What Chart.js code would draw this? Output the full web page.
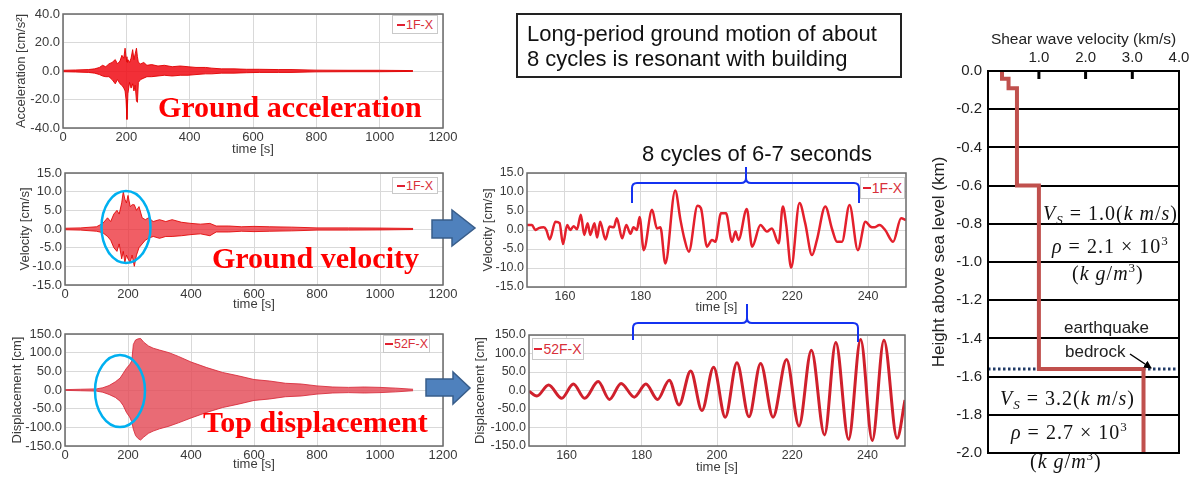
<!DOCTYPE html>
<html>
<head>
<meta charset="utf-8">
<script src="https://cdn.jsdelivr.net/npm/chart.js@4.4.1/dist/chart.umd.min.js"></script>
<style>
  body { margin: 0; width: 1198px; height: 477px; background: #fff; position: relative; overflow: hidden;
         font-family: 'Liberation Sans', Arial, sans-serif; }
  canvas { position: absolute; }
  .txt { position: absolute; white-space: nowrap; }
  .big { font-family: 'Liberation Serif', 'Times New Roman', serif; font-weight: bold; font-size: 30px; color: #ff0000; line-height: 30px; }
  .lg { position: absolute; box-sizing: border-box; border: 1px solid #c9c9c9; background: #fff; color: #d8303a;
        font-size: 12.5px; display: flex; align-items: center; justify-content: center; }
  .lg span { display: inline-block; width: 8px; height: 2px; background: #e02030; margin-right: 1px; }
  .math { position: absolute; white-space: nowrap; font-family: 'Liberation Serif', 'DejaVu Serif', serif; font-size: 20px; color: #111; line-height: 22px; letter-spacing: 1px; }
  .math sub { font-size: 13px; vertical-align: -4px; }
  .math sup { font-size: 13px; vertical-align: 8px; }
</style>
</head>
<body>
<canvas id="accChart" width="460" height="160" style="left:0;top:0"></canvas>
<canvas id="velChart" width="460" height="160" style="left:0;top:155px"></canvas>
<canvas id="dispChart" width="460" height="157" style="left:0;top:318px"></canvas>
<canvas id="midVelChart" width="450" height="158" style="left:470px;top:160px"></canvas>
<canvas id="midDispChart" width="451" height="158" style="left:469px;top:320px"></canvas>
<canvas id="vsChart" width="278" height="452" style="left:920px;top:25px"></canvas>

<svg width="1198" height="477" style="position:absolute;left:0;top:0;pointer-events:none">
  <defs>
    <marker id="ah" markerWidth="8" markerHeight="8" refX="7" refY="4" orient="auto" markerUnits="userSpaceOnUse">
      <path d="M0,0 L8,4 L0,8 z" fill="#000"/>
    </marker>
  </defs>
  <ellipse cx="126" cy="227" rx="24.5" ry="36" fill="none" stroke="#00b0f0" stroke-width="2.5"/>
  <ellipse cx="120" cy="391" rx="25" ry="36" fill="none" stroke="#00b0f0" stroke-width="2.5"/>
  <polygon points="432,220 452,220 452,210 475,228 452,246 452,238 432,238" fill="#4f81bd" stroke="#385d8a" stroke-width="1.5"/>
  <polygon points="426,379 453,379 453,372 470,388 453,404 453,396 426,396" fill="#4f81bd" stroke="#385d8a" stroke-width="1.5"/>
  <path d="M632,203 L632,188 Q632,183 637,183 L741,183 Q746,183 746,178 L746,167 M746,178 Q746,183 751,183 L854,183 Q859,183 859,188 L859,203"
        fill="none" stroke="#1432f0" stroke-width="2"/>
  <path d="M633,340 L633,328 Q633,323 638,323 L742,323 Q747,323 747,318 L747,304 M747,318 Q747,323 752,323 L853,323 Q858,323 858,328 L858,342"
        fill="none" stroke="#1432f0" stroke-width="2"/>
  <line x1="1130" y1="354" x2="1151" y2="368" stroke="#000" stroke-width="1.5" marker-end="url(#ah)"/>
</svg>

<div class="txt big" style="left:158px;top:92px">Ground acceleration</div>
<div class="txt big" style="left:212px;top:243px">Ground velocity</div>
<div class="txt big" style="left:203px;top:407px">Top displacement</div>

<div class="txt" style="left:516px;top:13px;width:386px;height:65px;box-sizing:border-box;border:2px solid #222;padding:6px 0 0 9px;font-size:22px;line-height:25px;color:#111">Long-period ground motion of about<br>8 cycles is resonant with building</div>
<div class="txt" style="left:642px;top:141px;font-size:22px;color:#111">8 cycles of 6-7 seconds</div>

<div class="lg" style="left:392px;top:15px;width:46px;height:19px"><span></span>1F-X</div>
<div class="lg" style="left:392px;top:177px;width:46px;height:17px"><span></span>1F-X</div>
<div class="lg" style="left:383px;top:335px;width:47px;height:18px"><span></span>52F-X</div>
<div class="lg" style="left:860px;top:177px;width:45px;height:22px;font-size:14px"><span></span>1F-X</div>
<div class="lg" style="left:532px;top:338px;width:52px;height:22px;font-size:14px"><span></span>52F-X</div>

<div class="math" style="left:1043px;top:202px"><i>V</i><sub><i>S</i></sub> = 1.0(<i>k m</i>/<i>s</i>)</div>
<div class="math" style="left:1052px;top:230px"><i>ρ</i> = 2.1 × 10<sup>3</sup></div>
<div class="math" style="left:1072px;top:257px">(<i>k g</i>/<i>m</i><sup>3</sup>)</div>
<div class="txt" style="left:1064px;top:318px;font-size:17px;color:#222">earthquake</div>
<div class="txt" style="left:1065px;top:342px;font-size:17px;color:#222">bedrock</div>
<div class="math" style="left:1000px;top:387px"><i>V</i><sub><i>S</i></sub> = 3.2(<i>k m</i>/<i>s</i>)</div>
<div class="math" style="left:1011px;top:416px"><i>ρ</i> = 2.7 × 10<sup>3</sup></div>
<div class="math" style="left:1030px;top:445px">(<i>k g</i>/<i>m</i><sup>3</sup>)</div>

<script>
Chart.defaults.font.family = "'Liberation Sans', Arial, sans-serif";
Chart.defaults.color = '#333';
Chart.defaults.animation = false;

// Ground acceleration 1F-X, envelope of the trace (cm/s2)
const accTime  = [0, 40, 80, 100, 115, 125, 135, 145, 155, 165, 172, 180, 186, 192, 196, 199, 202, 205, 210, 215,
                  220, 224, 228, 232, 235, 238, 245, 255, 265, 280, 300, 320, 345, 370, 395, 420, 450, 470, 500, 540,
                  580, 620, 680, 720, 800, 900, 1000, 1105];
const accUpper = [0.5, 0.7, 1, 1.5, 2.5, 4, 3, 5, 6, 8, 5, 7, 11, 9, 16, 10, 6, 8, 6, 9,
                  15, 8, 12, 16, 10, 6, 5, 6, 4, 4.5, 3.5, 4, 3, 3.5, 3, 2.5, 2.5, 2, 1.5, 1.5,
                  1.2, 1.2, 1, 1, 0.6, 0.5, 0.5, 0.3];
const accLower = [-0.5, -0.7, -1, -1.5, -2.5, -3.5, -4, -4, -6, -9, -6, -9, -10, -12, -14, -20, -34, -16, -8, -12,
                  -9, -14, -10, -21, -22, -8, -6, -5, -4, -4, -3.5, -3, -3.5, -3, -3, -2.5, -2, -2, -1.5, -1.5,
                  -1.2, -1, -1, -1, -0.6, -0.5, -0.5, -0.3];

// Ground velocity 1F-X, envelope (cm/s)
const velTime  = [0, 50, 100, 120, 135, 145, 155, 165, 172, 180, 185, 190, 195, 200, 207, 213, 220, 227, 235, 245,
                  255, 265, 280, 300, 320, 340, 370, 400, 430, 460, 480, 520, 560, 600, 650, 720, 800, 900, 1000, 1105];
const velUpper = [0.2, 0.3, 0.6, 1.5, 3, 2, 4, 5, 4, 7, 10, 8, 7, 9, 6, 6.5, 6.5, 5, 6, 3,
                  2.5, 3, 2, 2.5, 2, 2.5, 1.8, 1.5, 1.3, 1.5, 0.8, 0.8, 0.6, 0.7, 0.6, 0.5, 0.3, 0.3, 0.25, 0.15];
const velLower = [-0.2, -0.3, -0.6, -1, -2, -3, -5, -6, -4, -8, -6, -9, -7, -8, -9, -7, -10, -7, -5, -4,
                  -3, -2.5, -2, -2.5, -2, -2, -1.8, -1.5, -1.3, -1.8, -0.8, -0.8, -0.6, -0.7, -0.6, -0.5, -0.3, -0.3, -0.25, -0.15];

// Top displacement 52F-X, envelope (cm)
const dispTime  = [0, 50, 100, 120, 140, 160, 175, 185, 195, 205, 212, 217, 224, 232, 240, 250, 265, 280, 300, 330,
                   360, 400, 450, 500, 550, 600, 650, 700, 750, 800, 850, 900, 950, 1000, 1050, 1105];
const dispUpper = [1, 2, 3, 6, 12, 22, 32, 45, 58, 68, 78, 122, 134, 137, 138, 128, 118, 112, 107, 100,
                   90, 75, 60, 47, 38, 28, 24, 18, 16, 11, 8, 7, 8, 7, 5, 2];
const dispLower = [-1, -2, -3, -6, -12, -20, -30, -42, -60, -72, -85, -105, -122, -130, -134, -126, -116, -110, -104, -97,
                   -88, -75, -60, -47, -38, -28, -24, -18, -16, -11, -8, -7, -8, -7, -5, -2];

// Zoomed velocity 150-250 s (cm/s)
const midVelTime = [150, 151.3, 152.2, 153.1, 154.4, 155.1, 156, 157.5, 158.6, 159.5, 160.6, 161.4, 162.3, 163.2, 164.2,
                    165.1, 166, 166.7, 167.8, 168.5, 169.3, 170.7, 171.8, 172.9, 173.7, 175.1, 176.2, 177.3, 178.1, 179,
                    179.7, 180.8, 183, 184.3, 185.2, 186.5, 189.1, 190.5, 191.5, 192.7, 195, 195.9, 197.5, 198.8, 199.7,
                    201.2, 202.5, 204.1, 205, 205.8, 208, 209.4, 211.6, 213.3, 214.6, 216.4, 217.5, 218.4, 219.7, 221.9,
                    223.4, 225.2, 226.5, 228.7, 230.5, 231.8, 233.1, 235.1, 237.3, 239.3, 240.6, 241.6, 243, 244.5, 246.6,
                    248.7, 250];
const midVelValue = [1.3, 1.3, 0, 0.5, 0.7, 0, -2.5, 2.2, 1.8, -3.7, 1.3, 0, 1, 0.2, 4,
                     -1.3, 1.8, -1.3, 1.8, -2, 2.2, -2.5, 0.9, 0.7, 3.1, -2.2, 1.3, -1, 0.7, 0,
                     3.4, -5.3, 5.3, 0.4, 0.7, -8.8, 10.4, 2.6, -2.2, -5.7, 6.4, 5.7, -4.4, -2.6, -3.1,
                     4.4, 4.4, -3.1, -0.4, -2.6, 5.5, -4.4, 1.3, -0.4, 0.4, -3.5, 6.2, 1.3, -9.9, 7.1,
                     1.8, -6.6, -2.6, 6.2, 0.2, -3.1, -3.1, 6.6, -5.3, 2.2, 0.9, 0.7, 1.3, 0, -3.1,
                     3.1, 2.6];

// Zoomed top displacement 150-250 s (cm)
const midDispTime = [150, 152.1, 155.2, 158.7, 161.8, 164.8, 168.4, 171.4, 174.5, 178, 181.1, 184.2, 187.3, 189.9, 193,
                     196, 199.1, 202.2, 205.3, 208.5, 211.6, 214.9, 218.5, 221.8, 225.1, 228.6, 231.6, 235, 238.2, 241.3,
                     244.4, 247.9, 250];
const midDispValue = [-2, -15, 15, -21, 17.5, -21, 24, -24, 19, -18, 17.5, -24, 28, -39, 53,
                      -54, 63, -72, 75, -71, 73, -72, 84, -96, 109, -120, 130, -132, 138, -135,
                      136, -129, -26];

// Shear wave velocity profile
const layerVs = [0.21, 0.35, 0.53, 1.0, 3.24];      // km/s
const layerTop = [0, -0.04, -0.09, -0.6, -1.56];    // km
const profileBottom = -2.0;
const bedrockDepth = -1.56;

// Tick values
const longTicks = [0, 200, 400, 600, 800, 1000, 1200];
const zoomTicks = [160, 180, 200, 220, 240];
const accTicks = [-40, -30, -20, -10, 0, 10, 20, 30, 40];
const velTicks = [-15, -10, -5, 0, 5, 10, 15];
const dispTicks = [-150, -100, -50, 0, 50, 100, 150];
const vsTicks = [1, 2, 3, 4];
const heightTicks = [0, -0.2, -0.4, -0.6, -0.8, -1.0, -1.2, -1.4, -1.6, -1.8, -2.0];

function xy(xs, ys) { return xs.map((x, i) => ({ x: x, y: ys[i] })); }

// Moldura em volta da area do grafico
const framePlugin = {
  id: 'frame',
  afterDraw(chart, args, opts) {
    const { ctx, chartArea: a } = chart;
    ctx.save();
    ctx.strokeStyle = opts.color;
    ctx.lineWidth = opts.width;
    ctx.strokeRect(a.left, a.top, a.right - a.left, a.bottom - a.top);
    ctx.restore();
  }
};

// Tracinhos internos no eixo de cima
const innerTicksPlugin = {
  id: 'innerTicks',
  afterDraw(chart, args, opts) {
    const { ctx, chartArea: a } = chart;
    const sx = chart.scales.x;
    ctx.save();
    ctx.strokeStyle = '#000';
    ctx.lineWidth = 3;
    opts.values.forEach(v => {
      const px = sx.getPixelForValue(v);
      ctx.beginPath();
      ctx.moveTo(px, a.top);
      ctx.lineTo(px, a.top + 8);
      ctx.stroke();
    });
    ctx.restore();
  }
};

function bandSets(t, up, low, line, fill) {
  return [
    { data: xy(t, up), borderColor: line, borderWidth: 1, pointRadius: 0, fill: false },
    { data: xy(t, low), borderColor: line, borderWidth: 1, pointRadius: 0, fill: '-1', backgroundColor: fill }
  ];
}

function timeChart(id, cfg) {
  new Chart(document.getElementById(id), {
    type: 'line',
    data: { datasets: cfg.datasets },
    options: {
      responsive: false,
      animation: false,
      layout: { padding: cfg.padding },
      plugins: {
        legend: { display: false },
        tooltip: { enabled: false },
        frame: { color: '#6a6a6a', width: 1.5 }
      },
      scales: {
        x: {
          type: 'linear',
          min: cfg.xMin,
          max: cfg.xMax,
          afterBuildTicks: s => { s.ticks = cfg.xTicks.map(v => ({ value: v })); },
          afterFit: s => { s.height = cfg.xHeight; },
          grid: { color: '#d9d9d9', drawTicks: false },
          border: { display: false },
          ticks: { padding: 2, maxRotation: 0, font: { size: cfg.tickSize }, color: '#3a3a3a', callback: v => String(v) },
          title: { display: true, text: 'time [s]', font: { size: 13 }, color: '#3a3a3a', padding: { top: 0, bottom: 3 } }
        },
        y: {
          min: cfg.yMin,
          max: cfg.yMax,
          afterBuildTicks: s => { s.ticks = cfg.yTicks.map(v => ({ value: v })); },
          afterFit: s => { s.width = cfg.yWidth; },
          grid: { color: '#d9d9d9', drawTicks: false },
          border: { display: false },
          ticks: { padding: 3, font: { size: cfg.tickSize }, color: '#3a3a3a',
                   callback: v => (v % cfg.yLabelStep === 0 ? v.toFixed(1) : '') },
          title: { display: true, text: cfg.yTitle, font: { size: 13 }, color: '#3a3a3a', padding: { top: 4, bottom: 0 } }
        }
      }
    },
    plugins: [framePlugin]
  });
}

// Painel esquerdo: aceleracao
timeChart('accChart', {
  datasets: bandSets(accTime, accUpper, accLower, 'rgba(225,0,0,0.9)', 'rgba(240,10,20,0.85)'),
  padding: { left: 10, top: 14, right: 17, bottom: 0 },
  xMin: 0, xMax: 1200, xTicks: longTicks, xHeight: 32,
  yMin: -40, yMax: 40, yTicks: accTicks, yLabelStep: 20, yWidth: 53,
  yTitle: 'Acceleration [cm/s²]', tickSize: 13
});

// Painel esquerdo: velocidade
timeChart('velChart', {
  datasets: bandSets(velTime, velUpper, velLower, 'rgba(225,0,0,0.85)', 'rgba(236,40,50,0.75)'),
  padding: { left: 14, top: 18, right: 17, bottom: 0 },
  xMin: 0, xMax: 1200, xTicks: longTicks, xHeight: 30,
  yMin: -15, yMax: 15, yTicks: velTicks, yLabelStep: 5, yWidth: 51,
  yTitle: 'Velocity [cm/s]', tickSize: 13
});

// Painel esquerdo: deslocamento no topo
timeChart('dispChart', {
  datasets: bandSets(dispTime, dispUpper, dispLower, 'rgba(215,40,55,0.85)', 'rgba(228,70,82,0.8)'),
  padding: { left: 6, top: 16, right: 17, bottom: 0 },
  xMin: 0, xMax: 1200, xTicks: longTicks, xHeight: 29,
  yMin: -150, yMax: 150, yTicks: dispTicks, yLabelStep: 50, yWidth: 59,
  yTitle: 'Displacement [cm]', tickSize: 13
});

// Painel do meio: velocidade ampliada
timeChart('midVelChart', {
  datasets: [{ data: xy(midVelTime, midVelValue), borderColor: '#e4202c', borderWidth: 2.5, pointRadius: 0,
               cubicInterpolationMode: 'monotone', fill: false }],
  padding: { left: 7, top: 13, right: 14, bottom: 0 },
  xMin: 150, xMax: 250, xTicks: zoomTicks, xHeight: 31,
  yMin: -15, yMax: 15, yTicks: velTicks, yLabelStep: 5, yWidth: 50,
  yTitle: 'Velocity [cm/s]', tickSize: 12.5
});

// Painel do meio: deslocamento ampliado
timeChart('midDispChart', {
  datasets: [{ data: xy(midDispTime, midDispValue), borderColor: '#d0202c', borderWidth: 3, pointRadius: 0,
               cubicInterpolationMode: 'monotone', fill: false }],
  padding: { left: 0, top: 15, right: 15, bottom: 0 },
  xMin: 150, xMax: 250, xTicks: zoomTicks, xHeight: 32,
  yMin: -150, yMax: 150, yTicks: dispTicks, yLabelStep: 50, yWidth: 60,
  yTitle: 'Displacement [cm]', tickSize: 12.5
});

// Perfil de velocidade de onda S
const profilePts = [];
layerVs.forEach((vs, i) => {
  const bottom = i + 1 < layerTop.length ? layerTop[i + 1] : profileBottom;
  profilePts.push({ x: vs, y: layerTop[i] }, { x: vs, y: bottom });
});

new Chart(document.getElementById('vsChart'), {
  type: 'scatter',
  data: {
    datasets: [
      { data: profilePts, showLine: true, borderColor: '#c0504d', borderWidth: 4, pointRadius: 0, order: 0 },
      { data: [{ x: -0.09, y: bedrockDepth }, { x: 4, y: bedrockDepth }], showLine: true, borderColor: '#1f3864',
        borderWidth: 3, borderDash: [2.5, 2.5], pointRadius: 0, order: 1 }
    ]
  },
  options: {
    responsive: false,
    animation: false,
    layout: { padding: { left: 6, top: 2, right: 19, bottom: 24 } },
    plugins: {
      legend: { display: false },
      tooltip: { enabled: false },
      frame: { color: '#000', width: 2 },
      innerTicks: { values: [1, 2, 3] }
    },
    scales: {
      x: {
        type: 'linear',
        position: 'top',
        min: -0.09,
        max: 4,
        afterBuildTicks: s => { s.ticks = vsTicks.map(v => ({ value: v })); },
        afterFit: s => { s.height = 44; },
        grid: { drawOnChartArea: false, drawTicks: false },
        border: { display: false },
        ticks: { padding: 4, font: { size: 15 }, color: '#222', callback: v => v.toFixed(1) },
        title: { display: true, text: 'Shear wave velocity (km/s)', font: { size: 15.5 }, color: '#222', padding: { top: 3, bottom: 2 } }
      },
      y: {
        type: 'linear',
        min: -2,
        max: 0,
        afterBuildTicks: s => { s.ticks = heightTicks.map(v => ({ value: v })); },
        afterFit: s => { s.width = 62; },
        grid: { color: '#000', lineWidth: 2, drawTicks: false },
        border: { display: false },
        ticks: { padding: 6, font: { size: 15 }, color: '#222', callback: v => v.toFixed(1) },
        title: { display: true, text: 'Height above sea level (km)', font: { size: 17 }, color: '#222', padding: { top: 3, bottom: 0 } }
      }
    }
  },
  plugins: [framePlugin, innerTicksPlugin]
});
</script>
</body>
</html>
